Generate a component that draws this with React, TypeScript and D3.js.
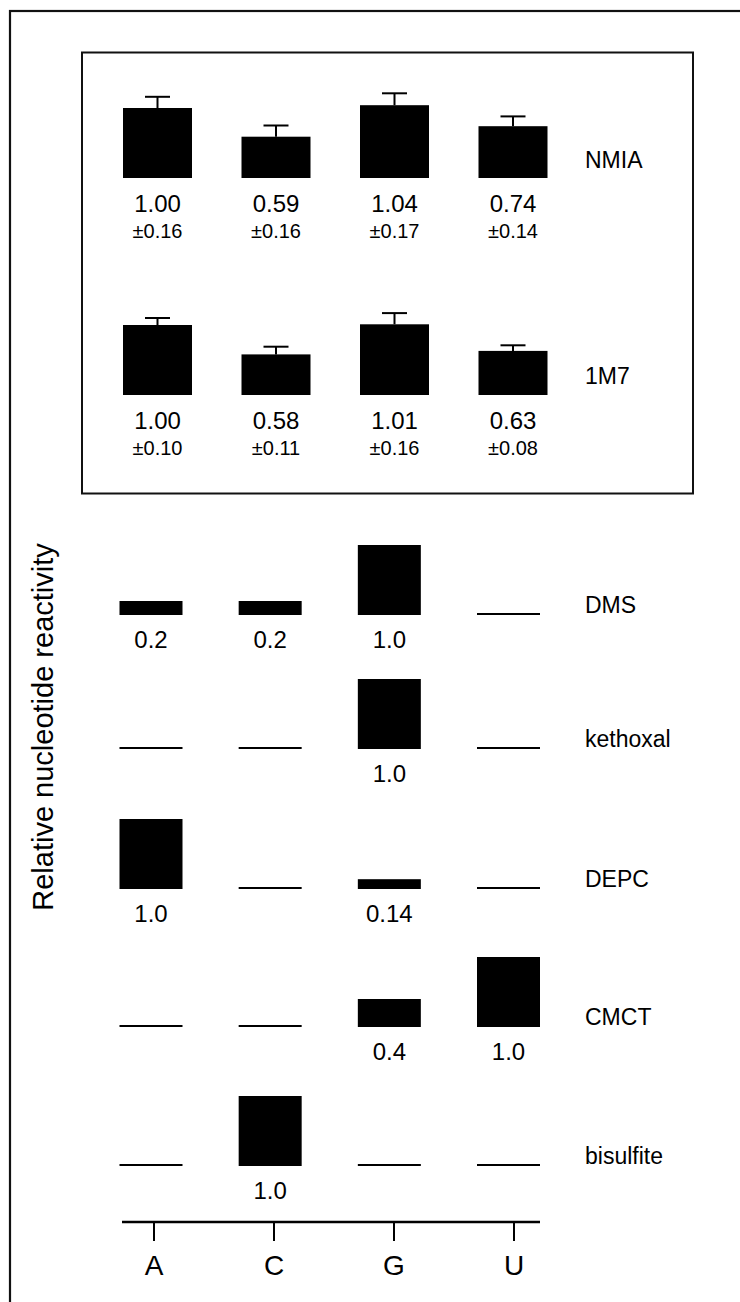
import React from "react";
import * as d3 from "d3";

const nucleotides = ["A", "C", "G", "U"];

const nmiaValues = [1.0, 0.59, 1.04, 0.74];
const nmiaErrors = [0.16, 0.16, 0.17, 0.14];
const m7Values = [1.0, 0.58, 1.01, 0.63];
const m7Errors = [0.1, 0.11, 0.16, 0.08];

const shapeReagents = ["NMIA", "1M7"];

const reagents = ["DMS", "kethoxal", "DEPC", "CMCT", "bisulfite"];
const dmsValues = [0.2, 0.2, 1.0, 0];
const kethoxalValues = [0, 0, 1.0, 0];
const depcValues = [1.0, 0, 0.14, 0];
const cmctValues = [0, 0, 0.4, 1.0];
const bisulfiteValues = [0, 1.0, 0, 0];
const dmsLabels = ["0.2", "0.2", "1.0", ""];
const kethoxalLabels = ["", "", "1.0", ""];
const depcLabels = ["1.0", "", "0.14", ""];
const cmctLabels = ["", "", "0.4", "1.0"];
const bisulfiteLabels = ["", "1.0", "", ""];

const yLabel = "Relative nucleotide reactivity";

const FONT = "'Liberation Sans', Arial, Helvetica, sans-serif";

export default function App() {
  const W = 740;
  const H = 1302;

  const yUnit = d3.scaleLinear().domain([0, 1]).range([0, 70]);

  const xTop = d3.scalePoint<string>().domain(nucleotides).range([157.5, 513]);
  const topBarW = 69;
  const xBot = d3.scalePoint<string>().domain(nucleotides).range([151, 508.5]);
  const botBarW = 63;
  const xAxis = d3.scalePoint<string>().domain(nucleotides).range([154, 514]);

  const shapeRows = [
    { name: shapeReagents[0], values: nmiaValues, errors: nmiaErrors, base: 178, labelY: 168 },
    { name: shapeReagents[1], values: m7Values, errors: m7Errors, base: 395, labelY: 384 },
  ];

  const chemRows = [
    { name: reagents[0], values: dmsValues, labels: dmsLabels, base: 615 },
    { name: reagents[1], values: kethoxalValues, labels: kethoxalLabels, base: 749 },
    { name: reagents[2], values: depcValues, labels: depcLabels, base: 889 },
    { name: reagents[3], values: cmctValues, labels: cmctLabels, base: 1027 },
    { name: reagents[4], values: bisulfiteValues, labels: bisulfiteLabels, base: 1166 },
  ];

  const fmt2 = d3.format(".2f");

  return (
    <svg
      width={W}
      height={H}
      style={{ position: "absolute", left: 0, top: 0, background: "#fff" }}
      fontFamily={FONT}
    >
      <rect x={0} y={0} width={W} height={H} fill="#fff" />
      <rect x={10} y={11} width={W + 20} height={H + 20} fill="none" stroke="#111" strokeWidth={2.2} />
      <rect x={82} y={52.5} width={611} height={441} fill="none" stroke="#111" strokeWidth={2} />

      {shapeRows.map((row) => (
        <g key={row.name}>
          {nucleotides.map((n, i) => {
            const cx = xTop(n) as number;
            const v = row.values[i];
            const e = row.errors[i];
            const top = row.base - yUnit(v);
            const errTop = row.base - yUnit(v + e);
            return (
              <g key={n}>
                <rect x={cx - topBarW / 2} y={top} width={topBarW} height={yUnit(v)} fill="#000" />
                <line x1={cx} x2={cx} y1={top} y2={errTop} stroke="#000" strokeWidth={2} />
                <line x1={cx - 12.5} x2={cx + 12.5} y1={errTop} y2={errTop} stroke="#000" strokeWidth={2} />
                <text x={cx} y={row.base + 34} textAnchor="middle" fontSize={24} fill="#000">
                  {fmt2(v)}
                </text>
                <text x={cx} y={row.base + 60} textAnchor="middle" fontSize={20} fill="#000">
                  {"±" + fmt2(e)}
                </text>
              </g>
            );
          })}
          <text x={585} y={row.labelY} fontSize={23} fill="#000">
            {row.name}
          </text>
        </g>
      ))}

      {chemRows.map((row) => (
        <g key={row.name}>
          {nucleotides.map((n, i) => {
            const cx = xBot(n) as number;
            const v = row.values[i];
            const h = yUnit(v);
            return (
              <g key={n}>
                {v > 0 ? (
                  <rect x={cx - botBarW / 2} y={row.base - h} width={botBarW} height={h} fill="#000" />
                ) : (
                  <line x1={cx - botBarW / 2} x2={cx + botBarW / 2} y1={row.base - 1} y2={row.base - 1} stroke="#000" strokeWidth={2} />
                )}
                {row.labels[i] ? (
                  <text x={cx} y={row.base + 33} textAnchor="middle" fontSize={24} fill="#000">
                    {row.labels[i]}
                  </text>
                ) : null}
              </g>
            );
          })}
          <text x={585} y={row.base - 2} fontSize={23} fill="#000">
            {row.name}
          </text>
        </g>
      ))}

      <line x1={122} x2={540} y1={1222} y2={1222} stroke="#000" strokeWidth={2.5} />
      {nucleotides.map((n) => {
        const x = xAxis(n) as number;
        return (
          <g key={n}>
            <line x1={x} x2={x} y1={1222} y2={1241} stroke="#000" strokeWidth={2} />
            <text x={x} y={1275} textAnchor="middle" fontSize={28} fill="#000">
              {n}
            </text>
          </g>
        );
      })}

      <text
        transform={`translate(53, 727) rotate(-90)`}
        textAnchor="middle"
        fontSize={29}
        fill="#000"
      >
        {yLabel}
      </text>
    </svg>
  );
}
